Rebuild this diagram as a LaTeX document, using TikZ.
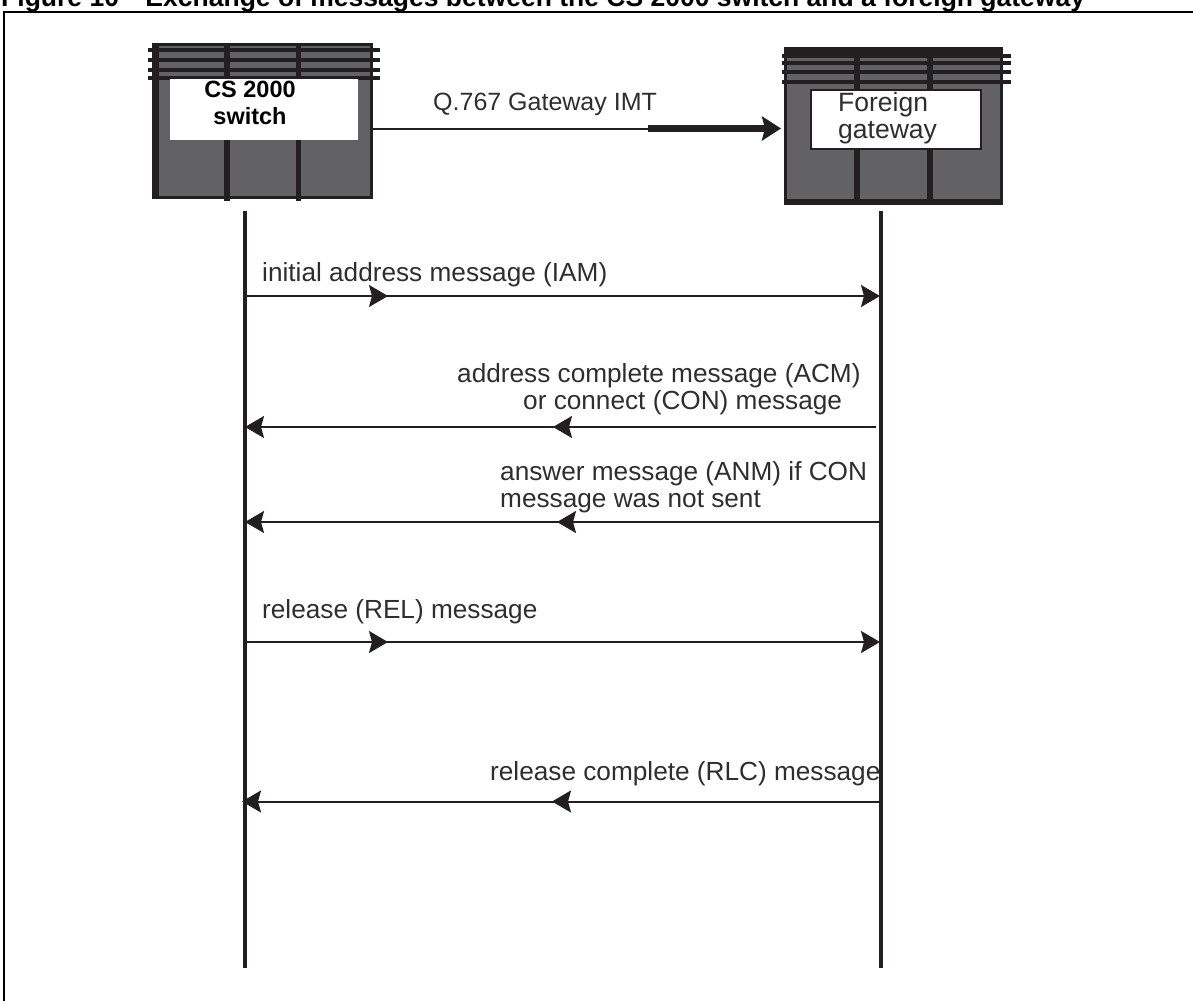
\documentclass[tikz,border=0pt]{standalone}
\usepackage{fontspec}
\setmainfont{Liberation Sans}
\usetikzlibrary{arrows.meta}
\definecolor{ink}{HTML}{231F20}
\definecolor{panel}{HTML}{626264}
\definecolor{lab}{HTML}{2E2E2E}
\tikzset{
  wire/.style={draw=ink,line width=2pt},
  life/.style={draw=ink,line width=4pt},
  frameline/.style={draw=black,line width=2.5pt},
  msg/.style={wire,-{Stealth[length=19pt,width=22pt,inset=3pt]}},
  lbl/.style={font=\fontsize{26.2}{27}\selectfont,text=lab,inner sep=0pt,align=left},
  whitebox/.style={fill=white,inner sep=0pt,anchor=north west},
  slat/.style={draw=ink,line width=3.5pt},
}
\begin{document}
\begin{tikzpicture}[x=1pt,y=-1pt]
\useasboundingbox (0,0) rectangle (1193,1001);
\begin{scope}
\clip (0,0) rectangle (1193,1001);
\node[anchor=base west,inner sep=0pt,font=\bfseries\fontsize{26.5}{30}\selectfont] (title) at (1,6) {Figure 10\quad Exchange of messages between the CS 2000 switch and a foreign gateway};
\coordinate (fa) at (4,1001);
\coordinate (fb) at (4,12);
\coordinate (fc) at (1193,12);
\draw[frameline] (fa) -- (fb) -- (fc);
% CS 2000 switch
\fill[panel] (152,43) rectangle (373,199);
\draw[draw=ink,line width=3.5pt] (154,44.5) rectangle (371.5,197.5);
\draw[draw=ink,line width=7pt] (155.5,44) -- (155.5,198);
\foreach \y in {50,60,70,78}{\draw[slat] (148,\y) -- (380,\y);}
\draw[draw=ink,line width=6.5pt] (227,43) -- (227,201);
\draw[draw=ink,line width=5pt] (298,43) -- (298,201);
\node[whitebox,minimum width=188pt,minimum height=61pt] (swbox) at (170,79) {};
\node[lbl,anchor=base,align=center,font=\bfseries\fontsize{23.5}{27}\selectfont,text=black] (swlabel) at (250,124) {CS 2000\\switch};
% Foreign gateway
\fill[panel] (784,47) rectangle (1003,205);
\draw[draw=ink,line width=3.5pt] (785.5,48.5) rectangle (1001.5,203.5);
\draw[draw=ink,line width=6pt] (784,202) -- (1003,202);
\fill[ink] (784,47) rectangle (1003,58);
\foreach \y in {56,63,72,82}{\draw[slat] (782,\y) -- (1011,\y);}
\draw[draw=ink,line width=6.5pt] (857,47) -- (857,205);
\draw[draw=ink,line width=6.5pt] (930,47) -- (930,205);
\node[whitebox,draw=ink,line width=1.5pt,minimum width=170pt,minimum height=59pt] (gwbox) at (810,89) {};
\node[lbl,anchor=base west,font=\fontsize{26.5}{27}\selectfont] (gwlabel) at (838,138) {Foreign\\gateway};
% lifelines
\coordinate (lt) at (244.5,211);
\coordinate (lb) at (244.5,968);
\coordinate (rt) at (881,211);
\coordinate (rb) at (881,968);
\draw[life] (lt) -- (lb);
\draw[life] (rt) -- (rb);
% top connector
\coordinate (ca) at (372,128.5);
\coordinate (cb) at (648,128.5);
\coordinate (cc) at (781,128.5);
\draw[wire] (ca) -- (cb);
\draw[draw=ink,line width=7pt,-{Stealth[length=19pt,width=24pt,inset=3pt]}] (cb) -- (cc);
\node[lbl,anchor=base west,font=\fontsize{25}{27}\selectfont] (l0) at (433,110) {Q.767 Gateway IMT};
% messages
\coordinate (a1) at (246,296);\coordinate (m1) at (388,296);\coordinate (b1) at (880,296);
\draw[msg] (a1) -- (m1);\draw[msg] (a1) -- (b1);
\node[lbl,anchor=base west] (l1) at (262,281) {initial address message (IAM)};
\coordinate (a2) at (876,427);\coordinate (m2) at (553,427);\coordinate (b2) at (245,427);
\draw[msg] (a2) -- (m2);\draw[msg] (a2) -- (b2);
\node[lbl,anchor=base west] (l2) at (457,409) {address complete message (ACM)\\\hspace*{66pt}or connect (CON) message};
\coordinate (a3) at (880,522);\coordinate (m3) at (557,522);\coordinate (b3) at (245,522);
\draw[msg] (a3) -- (m3);\draw[msg] (a3) -- (b3);
\node[lbl,anchor=base west] (l3) at (500,507) {answer message (ANM) if CON\\message was not sent};
\coordinate (a4) at (246,642);\coordinate (m4) at (388,642);\coordinate (b4) at (880,642);
\draw[msg] (a4) -- (m4);\draw[msg] (a4) -- (b4);
\node[lbl,anchor=base west] (l4) at (262,618) {release (REL) message};
\coordinate (a5) at (879,801.5);\coordinate (m5) at (552,801.5);\coordinate (b5) at (242,801.5);
\draw[msg] (a5) -- (m5);\draw[msg] (a5) -- (b5);
\node[lbl,anchor=base west] (l5) at (490,780) {release complete (RLC) message};
\end{scope}
\end{tikzpicture}
\end{document}
